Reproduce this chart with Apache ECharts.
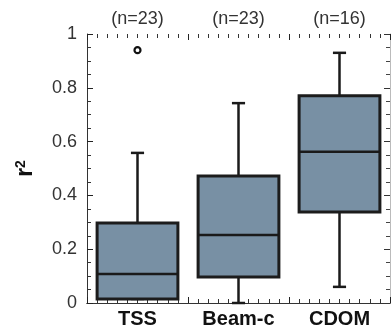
<!DOCTYPE html>
<html>
<head>
<meta charset="utf-8">
<script src="https://cdn.jsdelivr.net/npm/echarts@6/dist/echarts.min.js"></script>
<style>html,body{margin:0;padding:0;background:#fff}#c{width:391px;height:330px}</style>
</head>
<body>
<div id="c"></div>
<script>
const categories = ['TSS', 'Beam-c', 'CDOM'];
const nLabels = ['(n=23)', '(n=23)', '(n=16)'];
const mins = [0.015, 0.0, 0.06];
const q1s = [0.015, 0.097, 0.338];
const medians = [0.108, 0.253, 0.562];
const q3s = [0.297, 0.472, 0.77];
const maxs = [0.558, 0.743, 0.93];
const outlierCats = [0];
const outlierVals = [0.94];

const boxData = categories.map((c, i) => [i, mins[i], q1s[i], medians[i], q3s[i], maxs[i]]);
const outData = outlierCats.map((c, i) => [c, outlierVals[i]]);

function renderItem(params, api) {
  const x = api.value(0);
  const lo = api.coord([x, api.value(1)]);
  const q1 = api.coord([x, api.value(2)]);
  const md = api.coord([x, api.value(3)]);
  const q3 = api.coord([x, api.value(4)]);
  const hi = api.coord([x, api.value(5)]);
  const bw = api.size([1, 0])[0];
  const half = bw * 0.4, cap = bw * 0.065;
  const cx = lo[0];
  const ls = { stroke: '#1a1a1a', lineWidth: 2.5 };
  return {
    type: 'group',
    children: [
      { type: 'line', shape: { x1: cx, y1: q3[1], x2: cx, y2: hi[1] }, style: ls },
      { type: 'line', shape: { x1: cx - cap, y1: hi[1], x2: cx + cap, y2: hi[1] }, style: ls },
      { type: 'line', shape: { x1: cx, y1: q1[1], x2: cx, y2: lo[1] }, style: ls },
      { type: 'line', shape: { x1: cx - cap, y1: lo[1], x2: cx + cap, y2: lo[1] }, style: ls },
      { type: 'rect', shape: { x: cx - half, y: q3[1], width: 2 * half, height: q1[1] - q3[1] },
        style: { fill: '#7890a4', stroke: '#1c1c1c', lineWidth: 3 } },
      { type: 'line', shape: { x1: cx - half, y1: md[1], x2: cx + half, y2: md[1] }, style: ls }
    ]
  };
}

const tickAxis = (pos) => ({
  type: 'value', position: pos, min: 0.5, max: 3.5, interval: 1,
  axisLine: { show: false }, axisLabel: { show: false }, splitLine: { show: false },
  axisTick: { show: true, inside: true, length: 6, lineStyle: { color: '#222', width: 1 } },
  minorTick: { show: true, splitNumber: 10, length: 4, lineStyle: { color: '#333', width: 1 } },
  minorSplitLine: { show: false }
});

const chart = echarts.init(document.getElementById('c'), null, { renderer: 'canvas' });
chart.setOption({
  animation: false,
  grid: { left: 87, top: 34, right: 1, bottom: 27 },
  xAxis: [
    { type: 'category', position: 'bottom', data: categories,
      axisLine: { show: true, lineStyle: { color: '#333', width: 1 } },
      axisTick: { show: false },
      axisLabel: { margin: 6, color: '#111', fontSize: 20, fontWeight: 'bold', fontFamily: 'Liberation Sans' } },
    { type: 'category', position: 'top', data: nLabels,
      axisLine: { show: true, lineStyle: { color: '#333', width: 1 } },
      axisTick: { show: false },
      axisLabel: { margin: 6, color: '#333', fontSize: 18, fontFamily: 'Liberation Sans' } },
    tickAxis('bottom'),
    tickAxis('top')
  ],
  yAxis: [
    { type: 'value', position: 'left', min: 0, max: 1, interval: 0.2,
      name: 'r{s|2}', nameLocation: 'middle', nameGap: 50, nameRotate: 90,
      nameTextStyle: { fontSize: 23, fontWeight: 'bold', color: '#111', fontFamily: 'Liberation Sans',
        rich: { s: { fontSize: 14, fontWeight: 'bold', color: '#111', verticalAlign: 'top', fontFamily: 'Liberation Sans' } } },
      axisLine: { show: true, lineStyle: { color: '#333', width: 1 } },
      axisTick: { show: true, inside: true, length: 6, lineStyle: { color: '#222', width: 1 } },
      minorTick: { show: true, splitNumber: 4, length: 4, lineStyle: { color: '#333', width: 1 } },
      splitLine: { show: false },
      axisLabel: { margin: 10, color: '#333', fontSize: 18, fontFamily: 'Liberation Sans' } },
    { type: 'value', position: 'right', min: 0, max: 1, interval: 0.2,
      axisLine: { show: true, lineStyle: { color: '#bbb', width: 1 } },
      axisTick: { show: true, inside: true, length: 6, lineStyle: { color: '#333' } },
      minorTick: { show: true, splitNumber: 4, length: 4, lineStyle: { color: '#444' } },
      splitLine: { show: false }, axisLabel: { show: false } }
  ],
  series: [
    { type: 'custom', xAxisIndex: 0, yAxisIndex: 0, renderItem: renderItem,
      encode: { x: 0, y: [1, 2, 3, 4, 5] }, data: boxData, z: 3 },
    { type: 'scatter', xAxisIndex: 0, yAxisIndex: 0, data: outData, symbol: 'circle', symbolSize: 6,
      itemStyle: { color: '#fff', borderColor: '#111', borderWidth: 2.2, opacity: 1 }, z: 4 }
  ]
});
</script>
</body>
</html>
